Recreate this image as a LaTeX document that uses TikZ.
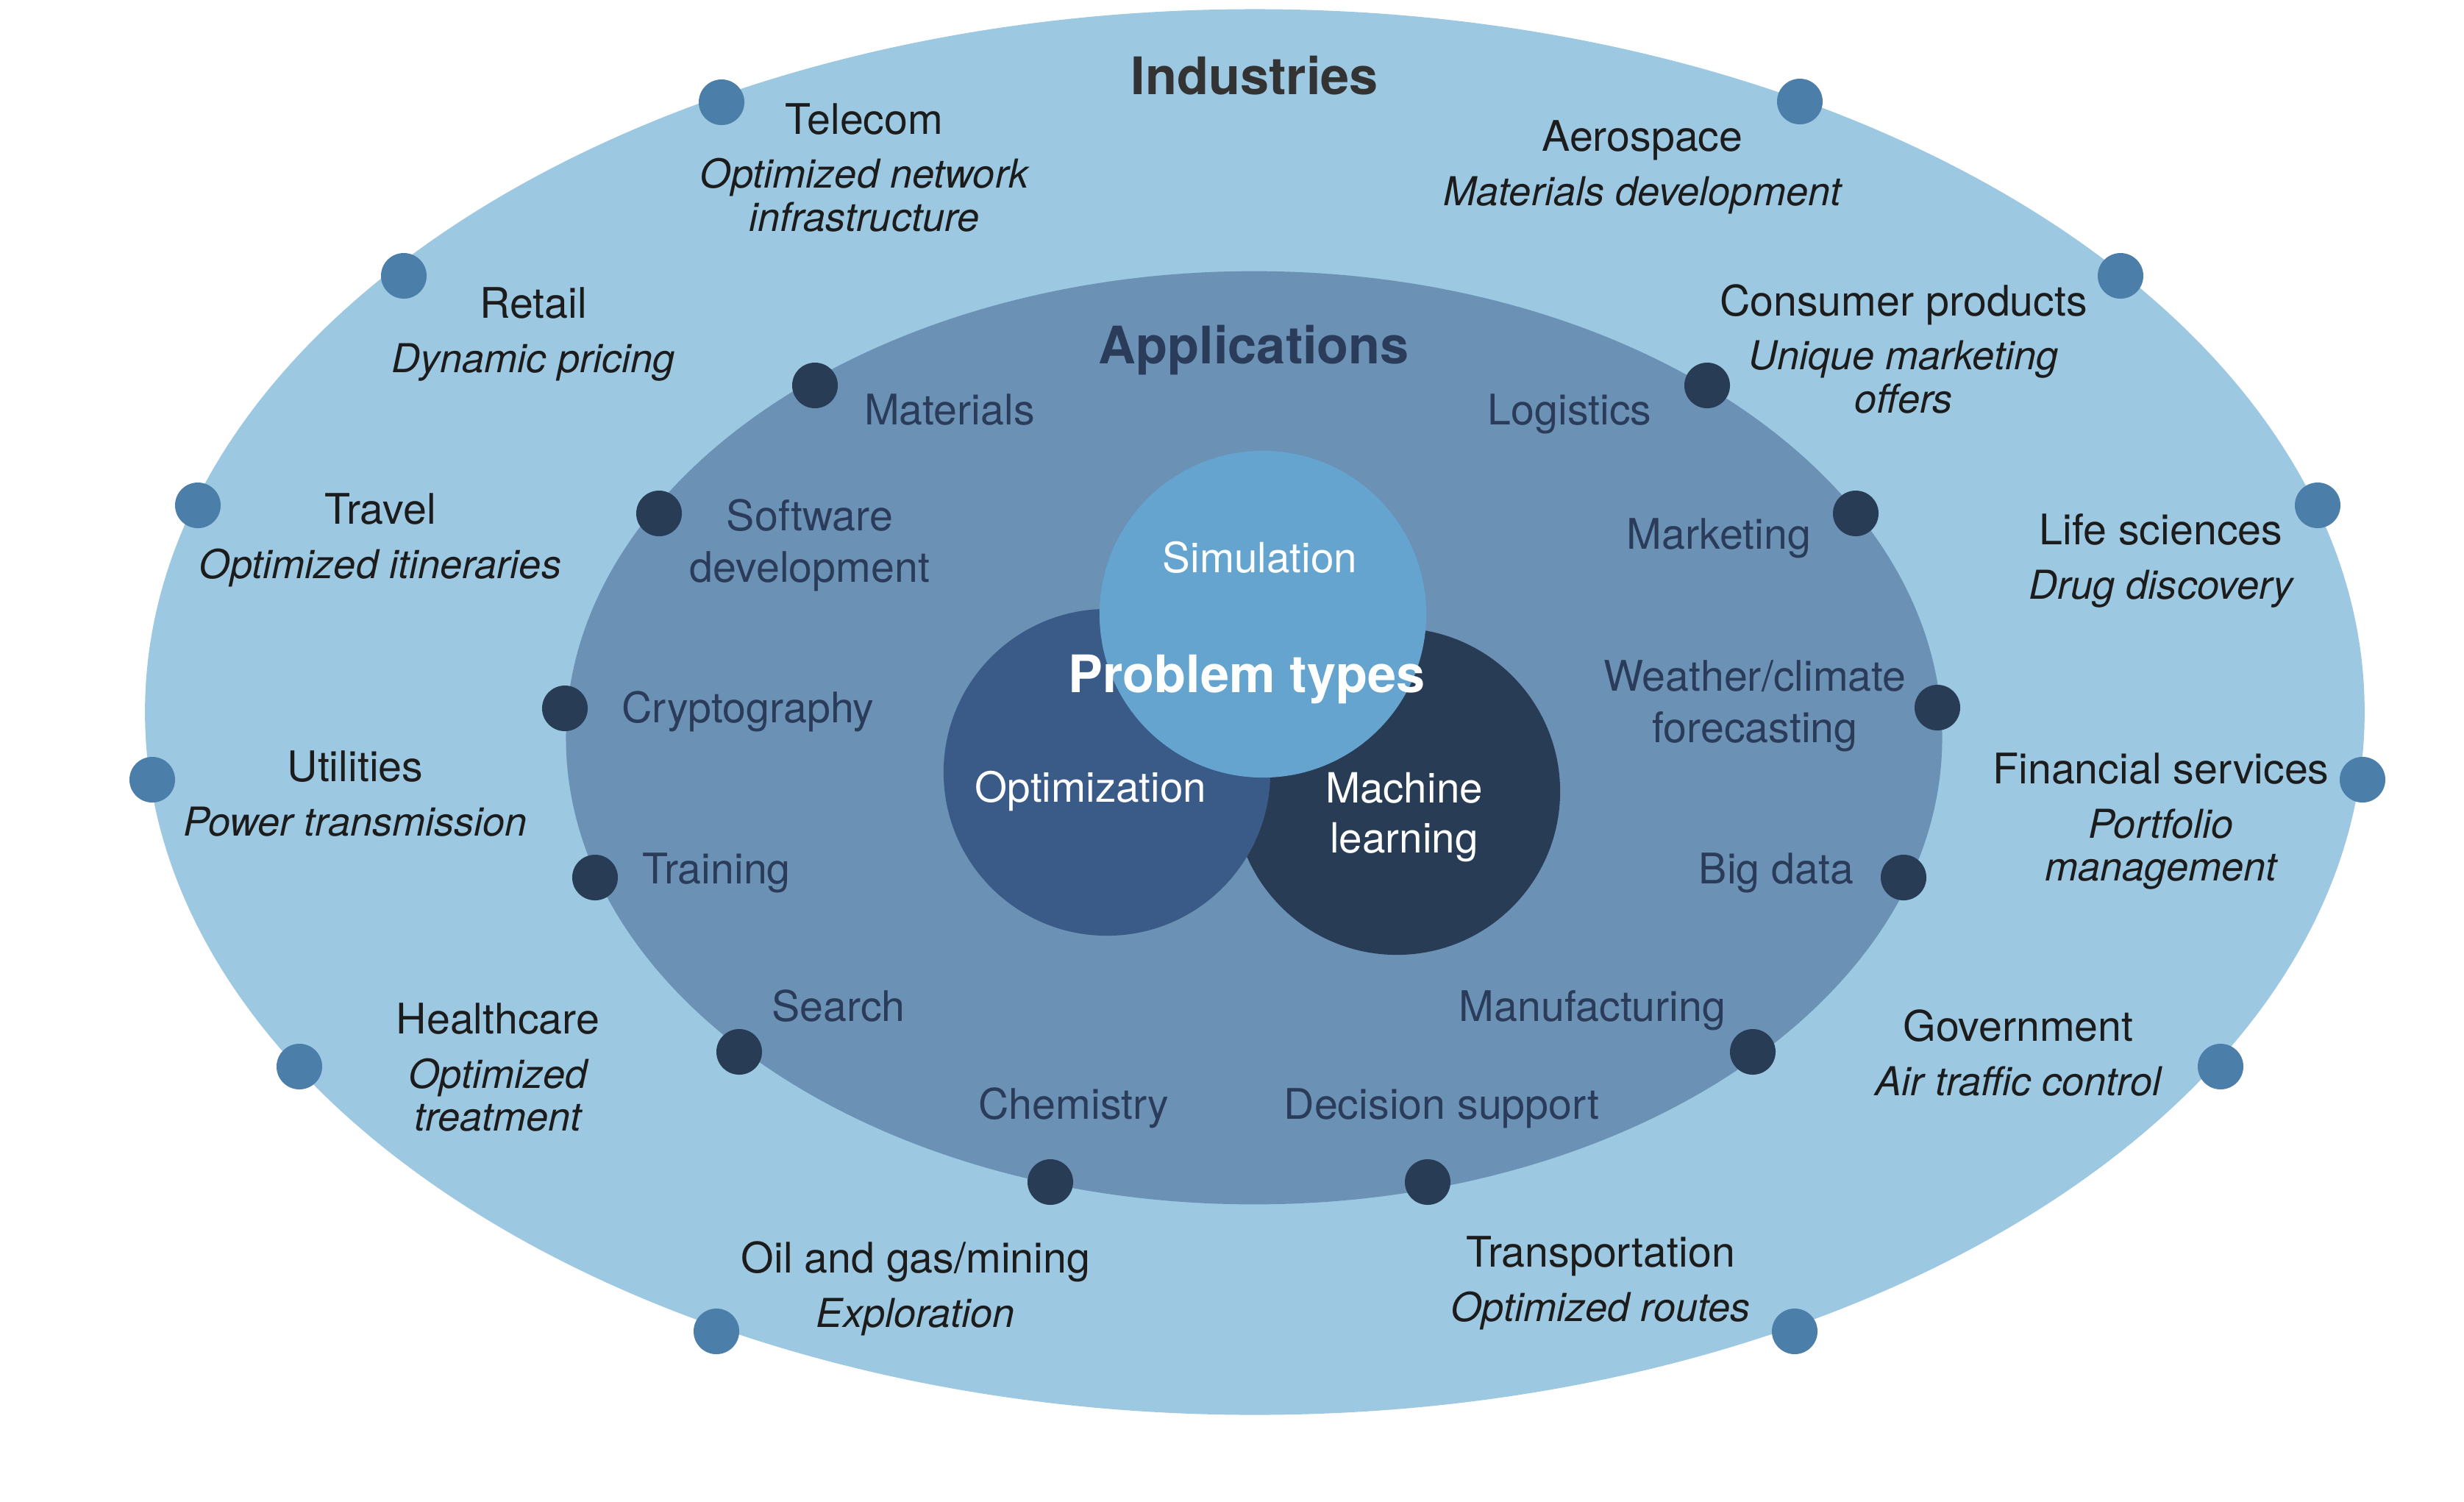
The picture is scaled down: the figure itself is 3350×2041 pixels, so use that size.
\documentclass[tikz,border=0pt]{standalone}
\usepackage{fontspec}
\setmainfont{TeX Gyre Heros}
\usetikzlibrary{positioning}
\definecolor{ringind}{HTML}{9CC8E2}
\definecolor{ringapp}{HTML}{6B91B5}
\definecolor{simblue}{HTML}{64A4CF}
\definecolor{optblue}{HTML}{3A5A87}
\definecolor{mlblue}{HTML}{283C55}
\definecolor{dotind}{HTML}{4C7EAA}
\definecolor{inkind}{HTML}{1C1C1C}
\definecolor{inkapp}{HTML}{2A3C5A}
\definecolor{inktitle}{HTML}{333333}

\begin{document}
\begin{tikzpicture}[x=.01cm,y=-.01cm,
  indpt/.style={circle,fill=dotind,inner sep=0pt,minimum size=.62cm},
  apppt/.style={circle,fill=mlblue,inner sep=0pt,minimum size=.62cm},
  ptype/.style={circle,inner sep=0pt,minimum size=4.44cm},
  ttl/.style={anchor=base,font=\fontsize{20}{24}\selectfont\bfseries},
  ind/.style={anchor=base,text=inkind,font=\fontsize{16.3}{19}\selectfont},
  sub/.style={anchor=base,text=inkind,align=center,font=\fontsize{15.4}{16.5}\selectfont\itshape},
  app/.style={anchor=base,text=inkapp,align=center,font=\fontsize{16.3}{19.9}\selectfont},
  inner/.style={anchor=base,text=white,align=center,font=\fontsize{16.1}{19.3}\selectfont}]
\useasboundingbox (0,0) rectangle (3350,2041);
% rings
\fill[ringind] (1706,968) ellipse [x radius=15.08cm,y radius=9.55cm];
\fill[ringapp] (1705,1003) ellipse [x radius=9.35cm,y radius=6.34cm];
\node[ttl,text=inktitle] (industries) at (1706,128) {Industries};
\node[ttl,text=inkapp] (applications) at (1705,494) {Applications};
% industries (base of a multi-line node = its last line)
\foreach \x/\y/\dy/\px/\py/\nm/\dsc [count=\i] in {
  1175/182/132/981/139/Telecom/{Optimized network\\infrastructure},
  2233/205/74/2447/138/Aerospace/{Materials development},
  725/432/74/549/375/Retail/{Dynamic pricing},
  2588/429/132/2883/375/Consumer products/{Unique marketing\\offers},
  517/712/74/269/687/Travel/{Optimized itineraries},
  2938/740/74/3151/687/Life sciences/{Drug discovery},
  483/1062/74/207/1060/Utilities/{Power transmission},
  2938/1065/132/3212/1060/Financial services/{Portfolio\\management},
  677/1405/132/407/1450/Healthcare/{Optimized\\treatment},
  2744/1415/74/3019/1450/Government/{Air traffic control},
  1245/1730/74/974/1810/{Oil and gas/mining}/{Exploration},
  2176/1722/74/2440/1810/Transportation/{Optimized routes}}{
  \node[indpt] (indpt\i) at (\px,\py) {};
  \node[ind] (ind\i) at (\x,\y) {\nm};
  \node[sub] (dsc\i) at (\x,\y+\dy) {\dsc};
}
% applications
\foreach \x/\y/\px/\py/\nm [count=\i] in {
  1291/577/1108/524/Materials,
  1101/791/896/698/{Software\\development},
  1017/982/768/963/Cryptography,
  974/1201/809/1193/Training,
  1140/1388/1005/1430/Search,
  1460/1521/1428/1607/Chemistry,
  1960/1521/1941/1607/Decision support,
  2165/1388/2383/1430/Manufacturing,
  2415/1201/2588/1193/Big data,
  2386/1009/2634/962/{Weather/climate\\forecasting},
  2337/746/2523/698/Marketing,
  2134/577/2321/524/Logistics}{
  \node[apppt] (apppt\i) at (\px,\py) {};
  \node[app] (app\i) at (\x,\y) {\nm};
}
% problem types
\node[ptype,fill=mlblue] (ml) at (1899,1076) {};
\node[ptype,fill=optblue] (opt) at (1505,1050) {};
\node[ptype,fill=simblue] (sim) at (1717,835) {};
\node[inner] (simlbl) at (1713,778) {Simulation};
\node[inner] (optlbl) at (1483,1090) {Optimization};
\node[inner] (mllbl) at (1909,1159) {Machine\\learning};
\node[ttl,text=white] (ptypes) at (1695,941) {Problem types};
\end{tikzpicture}
\end{document}
